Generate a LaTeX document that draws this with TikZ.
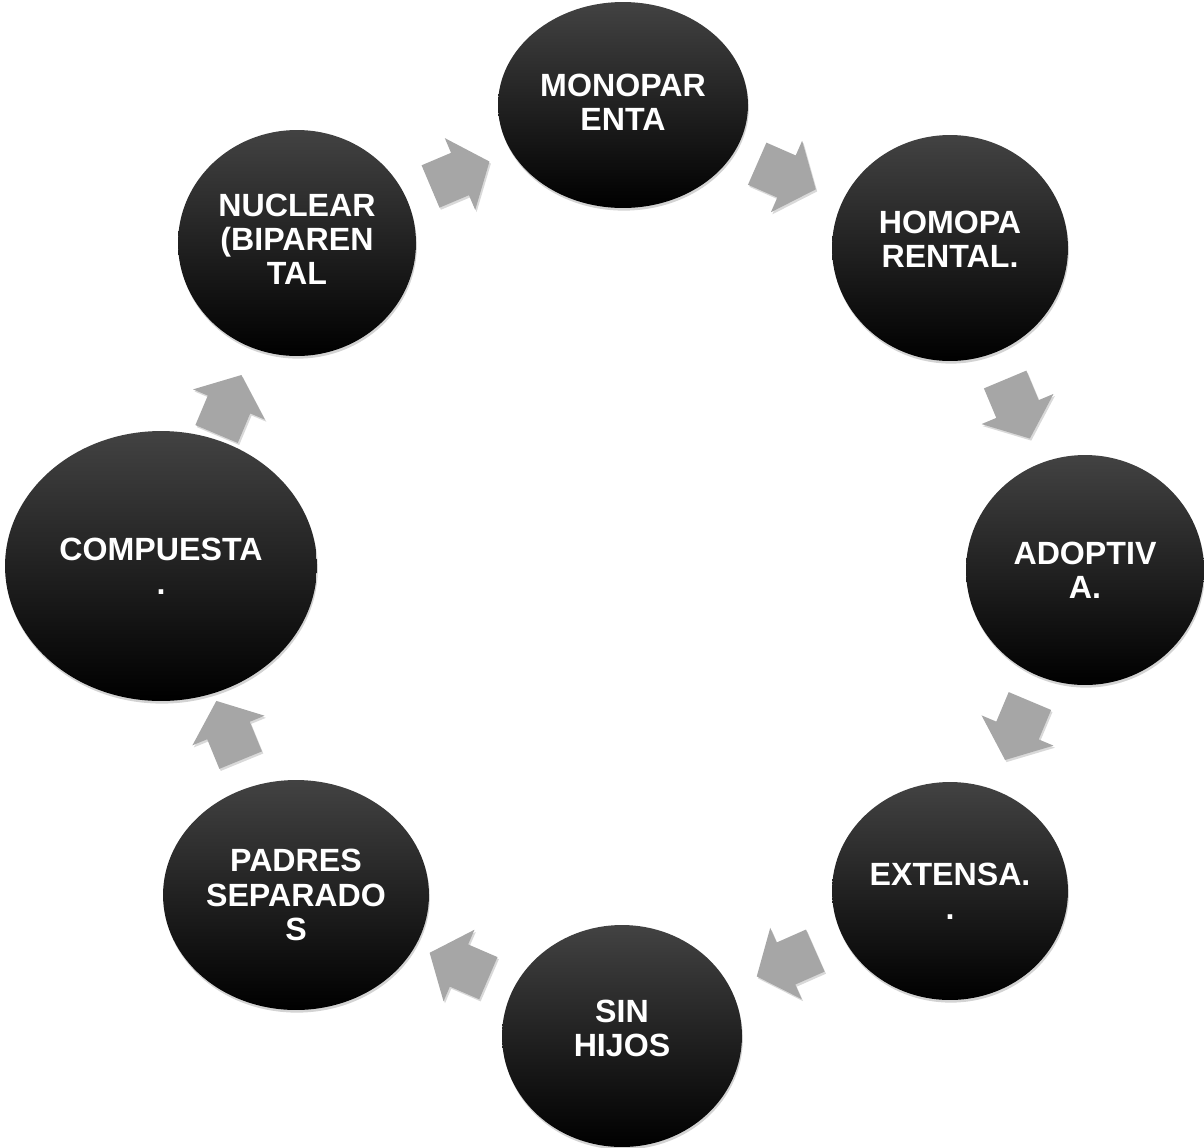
\documentclass[tikz,border=0pt]{standalone}
\usepackage{fontspec}
\setmainfont{Liberation Sans}
\usetikzlibrary{shapes.geometric,shadows,calc}
\definecolor{arrowgray}{RGB}{166,166,166}

\begin{document}
\begin{tikzpicture}[x=0.02cm,y=-0.02cm,
    famcircle/.style={ellipse, inner sep=0pt, top color=black!74, middle color=black, bottom color=black,
        text=white, align=center, font=\bfseries\fontsize{18.3}{19.5}\selectfont,
        drop shadow={opacity=0.35, shadow xshift=0.5pt, shadow yshift=-1.5pt}},
    cyclearrow/.pic={
        \fill[arrowgray, drop shadow={opacity=0.3, shadow xshift=0.8pt, shadow yshift=-1.2pt}]
            (-32,-23) -- (0,-23) -- (0,-39) -- (32,0) -- (0,39) -- (0,23) -- (-32,23) -- cycle;
    }
]
    \useasboundingbox (0,0) rectangle (1204,1147);
    % the eight family types
    \node[famcircle, minimum width=5.0cm, minimum height=4.12cm, text depth=3pt] (mono) at (623,105) {MONOPAR\\ENTA};
    \node[famcircle, minimum width=4.72cm, minimum height=4.52cm, text depth=10pt] (homo) at (950,248) {HOMOPA\\RENTAL.};
    \node[famcircle, minimum width=4.76cm, minimum height=4.6cm] (adopt) at (1085,570) {ADOPTIV\\A.};
    \node[famcircle, minimum width=4.72cm, minimum height=4.36cm] (ext) at (950,891) {EXTENSA.\\.};
    \node[famcircle, minimum width=4.8cm, minimum height=4.44cm, text depth=9pt] (sin) at (622,1036) {SIN\\HIJOS};
    \node[famcircle, minimum width=5.32cm, minimum height=4.6cm] (padres) at (296,895) {PADRES\\SEPARADO\\S};
    \node[famcircle, minimum width=6.24cm, minimum height=5.4cm] (comp) at (161,566) {COMPUESTA\\.};
    \node[famcircle, minimum width=4.76cm, minimum height=4.52cm, text depth=4pt] (nuc) at (297,243) {NUCLEAR\\(BIPAREN\\TAL};
    % block arrows half way between neighbours
    \foreach \a/\b in {nuc/mono, mono/homo, homo/adopt, adopt/ext, ext/sin, sin/padres, padres/comp, comp/nuc}
        \path let \p1=($(\b)-(\a)$), \n1={atan2(\y1,\x1)} in
            ($(\a)!0.5!(\b)$) pic[rotate=\n1] {cyclearrow};
\end{tikzpicture}
\end{document}
